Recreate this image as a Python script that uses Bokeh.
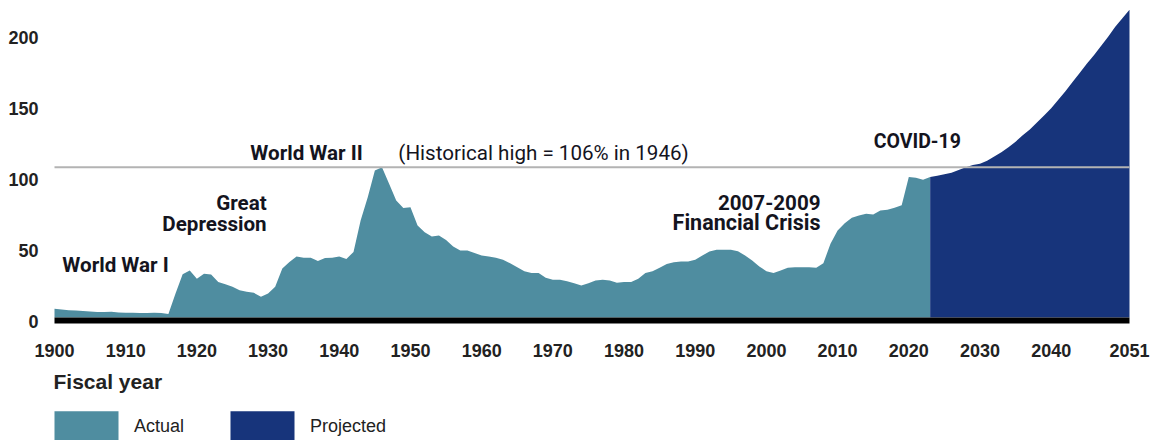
from bokeh.plotting import figure
from bokeh.models import Range1d, Label, Legend, LegendItem
from bokeh.embed import file_html
from bokeh.resources import INLINE

# ---------------- data ----------------
actual_years = list(range(1900, 2024))
actual_debt = [
    6.1, 5.6, 5.1, 4.9, 4.5, 4.2, 3.8, 3.8, 4.0, 3.5,          # 1900s
    3.3, 3.3, 3.1, 3.1, 3.3, 3.1, 2.4, 16.9, 30.5, 33.1,       # 1910s
    27.3, 30.8, 30.3, 25.1, 23.5, 21.6, 19.3, 18.1, 17.4, 14.6,  # 1920s
    16.9, 21.6, 34.5, 39.2, 43.1, 42.2, 42.2, 39.9, 42.0, 42.2,  # 1930s
    43.1, 41.3, 46.2, 68.4, 84.8, 103.7, 106.0, 94.3, 82.5, 77.3,  # 1940s
    77.8, 64.9, 60.2, 57.1, 57.8, 54.7, 50.0, 47.2, 47.2, 45.4,  # 1950s
    43.7, 43.0, 42.1, 40.7, 38.3, 35.5, 32.7, 31.3, 31.3, 28.0,  # 1960s
    26.6, 26.6, 25.6, 24.2, 22.6, 24.2, 26.1, 26.6, 26.1, 24.5,  # 1970s
    25.0, 25.0, 27.3, 31.3, 32.7, 35.0, 37.8, 39.0, 39.5, 39.5,  # 1980s
    40.7, 43.7, 46.5, 47.7, 47.7, 47.7, 46.8, 43.7, 40.2, 36.0,  # 1990s
    32.7, 31.3, 33.1, 35.0, 35.5, 35.5, 35.5, 35.0, 38.3, 52.0,  # 2000s
    61.4, 66.5, 70.3, 72.0, 73.1, 72.7, 75.5, 76.0, 77.4, 79.1,  # 2010s
    99.0, 98.5, 97.1, 99.0,                                      # 2020-2023
]
projected_years = list(range(2023, 2052))
projected_debt = [
    99.0, 100.0, 101.0, 102.0, 104.0, 106.0, 107.5, 108.5, 110.5, 113.5,
    116.5, 120.0, 124.0, 128.5, 132.5, 137.5, 142.5, 147.5, 153.5, 159.5,
    166.0, 172.5, 179.0, 185.0, 191.5, 198.0, 205.0, 211.0, 217.0,
]
x_tick_values = [1900, 1910, 1920, 1930, 1940, 1950, 1960, 1970, 1980,
                 1990, 2000, 2010, 2020, 2030, 2040, 2051]
y_tick_values = [0, 50, 100, 150, 200]
historical_high = 106

series_labels = ["Actual", "Projected"]
x_title = "Fiscal year"
events = ["World War I", "Great", "Depression", "World War II",
          "(Historical high = 106% in 1946)", "2007-2009", "Financial Crisis",
          "COVID-19"]

# ---------------- style / layout ----------------
TEAL = "#4f8da0"
NAVY = "#17347b"
INK = "#14141e"
TICK_INK = "#222222"
W, H = 1150, 440
PLOT_LEFT, PLOT_RIGHT = 54, 1129      # pixel columns of the first / last year
ZERO_Y = 317                          # pixel row of the zero line
PX = 1.418                            # vertical pixels per percentage point

x_first, x_last = actual_years[0], projected_years[-1]
PXX = (PLOT_RIGHT - PLOT_LEFT) / (x_last - x_first)
x_start = x_first - PLOT_LEFT / PXX
x_end = x_last + (W - PLOT_RIGHT) / PXX
y_start = -(H - ZERO_Y) / PX
y_end = ZERO_Y / PX

p = figure(width=W, height=H, output_backend="svg", toolbar_location=None,
           x_range=Range1d(x_start, x_end), y_range=Range1d(y_start, y_end),
           x_axis_location=None, y_axis_location=None,
           min_border_left=0, min_border_right=0,
           min_border_top=0, min_border_bottom=0)
p.outline_line_color = None
p.xgrid.visible = False
p.ygrid.visible = False
p.background_fill_color = "white"
p.border_fill_color = "white"

r_act = p.varea(x=actual_years, y1=0, y2=actual_debt, fill_color=TEAL)
r_proj = p.varea(x=projected_years, y1=0, y2=projected_debt, fill_color=NAVY)

# reference line at the historical high
p.segment(x0=[x_first], y0=[historical_high], x1=[x_last], y1=[historical_high],
          line_color="#b3b3b3", line_width=2)
# heavy baseline (sits just under zero)
base = -3 / PX
p.segment(x0=[x_first], y0=[base], x1=[x_last], y1=[base],
          line_color="black", line_width=6)

# x tick labels
for t in x_tick_values:
    p.add_layout(Label(x=t, y=-33 / PX, text=str(t),
                       text_align="center", text_baseline="middle",
                       text_font="Liberation Sans", text_font_style="bold",
                       text_font_size="18px", text_color=TICK_INK))

# y tick labels (right-aligned left of the plot, a few px below their value)
for v in y_tick_values:
    p.add_layout(Label(x=x_first, y=v - 4 / PX, x_offset=-16, text=str(v),
                       text_align="right", text_baseline="middle",
                       text_font="Liberation Sans", text_font_style="bold",
                       text_font_size="18px", text_color=TICK_INK))

# x title
p.add_layout(Label(x=x_first, y=-64 / PX, x_offset=-1, text=x_title,
                   text_align="left", text_baseline="middle",
                   text_font="Liberation Sans", text_font_style="bold",
                   text_font_size="21px", text_color=TICK_INK))

# annotations
def note(text, x, y, align, bold=True, size="20.6px"):
    p.add_layout(Label(x=x, y=y, text=text, text_align=align,
                       text_baseline="middle", text_font="Roboto",
                       text_font_style="bold" if bold else "normal",
                       text_font_size=size, text_color=INK))

note(events[0], 1901.1, 36.7, "left")
note(events[1], 1929.8, 80.4, "right")
note(events[2], 1929.8, 65.6, "right")
note(events[3], 1943.3, 115.7, "right")
note(events[4], 1948.3, 115.7, "left", bold=False)
note(events[5], 2007.6, 81.1, "right")
note(events[6], 2007.6, 67.0, "right", size="21.5px")
note(events[7], 2021.2, 124.1, "center", size="19.5px")

legend = Legend(items=[LegendItem(label=series_labels[0], renderers=[r_act]),
                       LegendItem(label=series_labels[1], renderers=[r_proj])],
                orientation="horizontal", location=(PLOT_LEFT - 8, -5),
                glyph_width=80, glyph_height=38, label_height=30,
                label_standoff=8, spacing=38, padding=0, margin=0,
                border_line_color=None, background_fill_alpha=0,
                label_text_font="Liberation Sans", label_text_font_size="18px",
                label_text_color=TICK_INK)
p.add_layout(legend)

open("out.html", "w").write(file_html(p, INLINE))
